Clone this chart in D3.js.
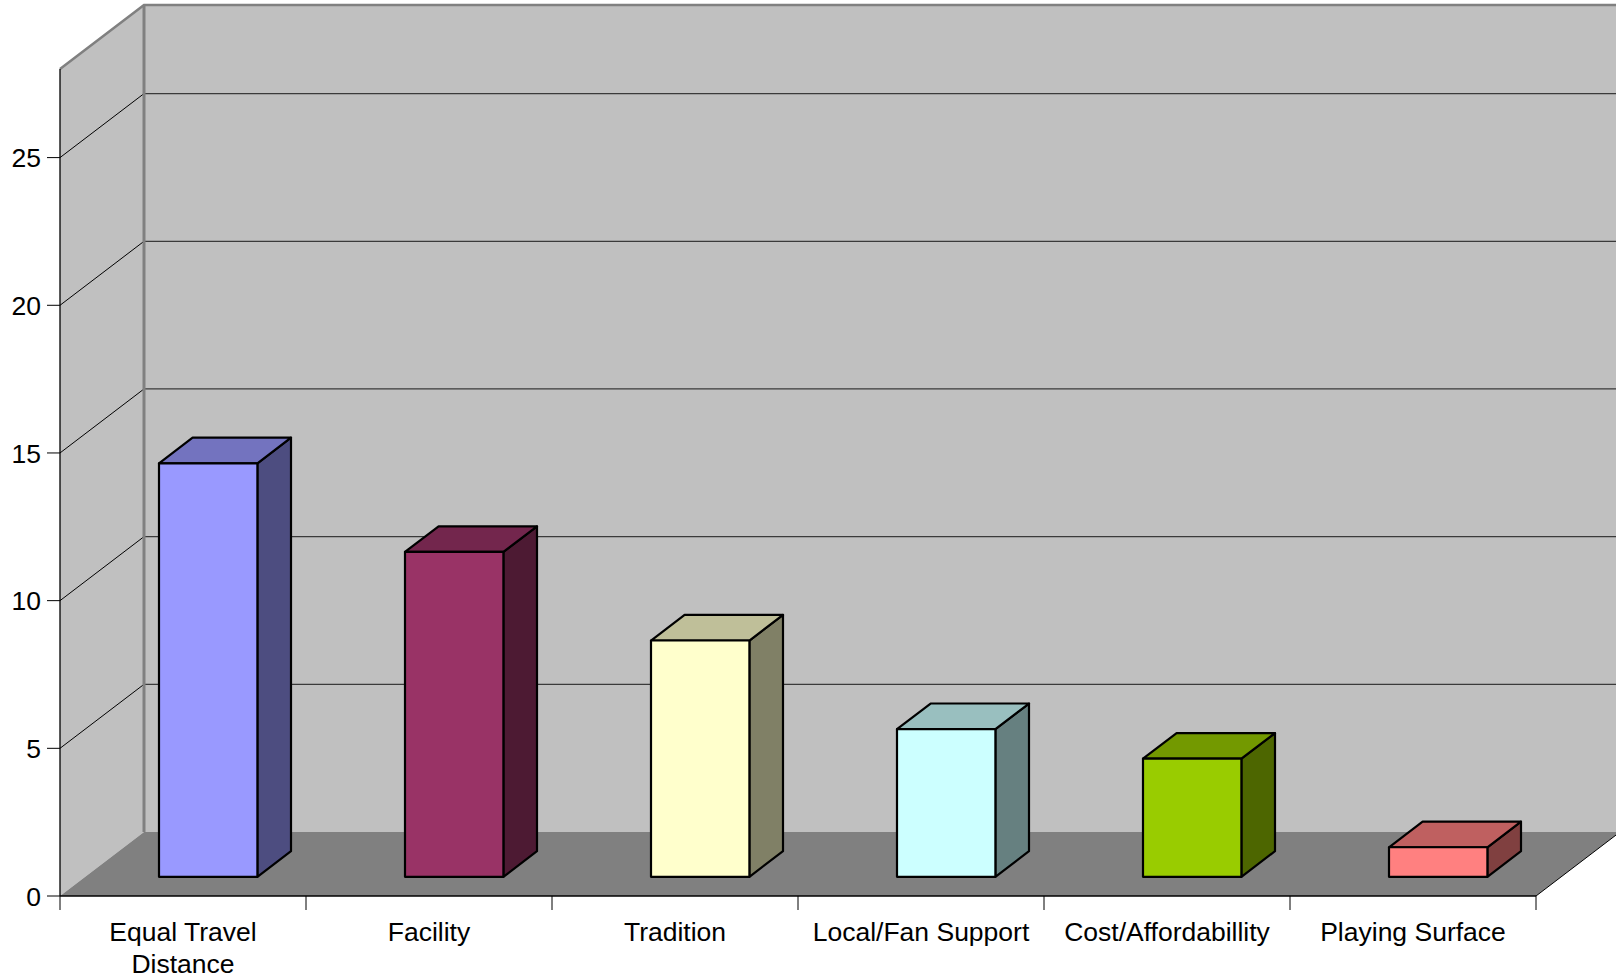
<!DOCTYPE html>
<html>
<head>
<meta charset="utf-8">
<script src="https://cdn.jsdelivr.net/npm/d3@7/dist/d3.min.js"></script>
<style>
  body { margin: 0; background: #fff; }
  text { font-family: "Liberation Sans", Arial, sans-serif; fill: #000; }
</style>
</head>
<body>
<svg id="chart" width="1616" height="980"></svg>
<script>
// data
var categories = ['Equal Travel|Distance', 'Facility', 'Tradition', 'Local/Fan Support', 'Cost/Affordabillity', 'Playing Surface'];
var values = [14, 11, 8, 5, 4, 1];
var barColors = ['#9999ff', '#993366', '#ffffcc', '#ccffff', '#99cc00', '#ff8080'];
var yTicks = [0, 5, 10, 15, 20, 25];
var yMax = 28;

var svg = d3.select('#chart');

// 3d depth offset of the walls
var dx = 84, dy = -64;
var x = d3.scaleBand().domain(d3.range(categories.length)).range([60, 1536]).padding(0);
var y = d3.scaleLinear().domain([0, yMax]).range([896, 69]);

var x0 = x.range()[0], x1 = x.range()[1];
var yb = y(0), yt = y(yMax);
var rightEdge = 1640;
var fontSize = 26.5;

function pt(px, py, z) { return [px + z * dx, py + z * dy]; }
function poly(points) { return points.map(function(p){ return p.join(','); }).join(' '); }
function shade(c, k) {
  var r = d3.rgb(c);
  return d3.rgb(r.r * k, r.g * k, r.b * k).toString();
}

// walls
svg.append('polygon')
  .attr('points', poly([[x0, yb], pt(x0, yb, 1), pt(x0, yt, 1), [x0, yt]]))
  .attr('fill', '#c0c0c0');
svg.append('polygon')
  .attr('points', poly([pt(x0, yb, 1), [rightEdge, yb + dy], [rightEdge, yt + dy], pt(x0, yt, 1)]))
  .attr('fill', '#c0c0c0');
// floor
svg.append('polygon')
  .attr('points', poly([[x0, yb], [x1, yb], pt(x1, yb, 1), pt(x0, yb, 1)]))
  .attr('fill', '#808080');

// grid lines
yTicks.filter(function(d){ return d > 0; }).forEach(function(d) {
  var a = [x0, y(d)], b = pt(x0, y(d), 1);
  svg.append('line')
    .attr('x1', a[0]).attr('y1', a[1]).attr('x2', b[0]).attr('y2', b[1])
    .attr('stroke', '#000').attr('stroke-width', 1);
  svg.append('line')
    .attr('x1', b[0]).attr('y1', b[1]).attr('x2', rightEdge).attr('y2', b[1])
    .attr('stroke', '#3a3a3a').attr('stroke-width', 1.3);
});

// wall edges
var backTop = pt(x0, yt, 1), backBot = pt(x0, yb, 1);
svg.append('polyline')
  .attr('points', poly([[x0, yt], backTop, [rightEdge, backTop[1]]]))
  .attr('fill', 'none').attr('stroke', '#808080').attr('stroke-width', 2.5);
svg.append('line')
  .attr('x1', backTop[0]).attr('y1', backTop[1]).attr('x2', backBot[0]).attr('y2', backBot[1])
  .attr('stroke', '#808080').attr('stroke-width', 3);
// floor right edge
var fr = pt(x1, yb, 1);
svg.append('line')
  .attr('x1', x1).attr('y1', yb).attr('x2', fr[0]).attr('y2', fr[1])
  .attr('stroke', '#000').attr('stroke-width', 1);

// bars
var zf = 0.3, zb = 0.7, bw = 0.4;
values.forEach(function(v, i) {
  var l = x(i) + x.bandwidth() * (1 - bw) / 2;
  var r = l + x.bandwidth() * bw;
  var top = y(v);
  var c = barColors[i];
  var g = svg.append('g')
    .attr('stroke', '#000').attr('stroke-width', 2.2).attr('stroke-linejoin', 'round');
  // side
  g.append('polygon')
    .attr('points', poly([pt(r, yb, zf), pt(r, yb, zb), pt(r, top, zb), pt(r, top, zf)]))
    .attr('fill', shade(c, 0.5));
  // top
  g.append('polygon')
    .attr('points', poly([pt(l, top, zf), pt(r, top, zf), pt(r, top, zb), pt(l, top, zb)]))
    .attr('fill', shade(c, 0.75));
  // front
  var f0 = pt(l, top, zf), f1 = pt(r, yb, zf);
  g.append('rect')
    .attr('x', f0[0]).attr('y', f0[1])
    .attr('width', f1[0] - f0[0]).attr('height', f1[1] - f0[1])
    .attr('fill', c);
});

// y axis
svg.append('line')
  .attr('x1', x0).attr('y1', yb).attr('x2', x0).attr('y2', yt)
  .attr('stroke', '#000').attr('stroke-width', 1.3);
var yAxis = svg.append('g');
yTicks.forEach(function(d) {
  yAxis.append('line')
    .attr('x1', x0 - 13).attr('x2', x0).attr('y1', y(d)).attr('y2', y(d))
    .attr('stroke', '#000').attr('stroke-width', 1);
  yAxis.append('text')
    .attr('x', x0 - 19).attr('y', y(d)).attr('dy', '0.36em')
    .attr('text-anchor', 'end').attr('font-size', fontSize)
    .text(d);
});

// x axis
svg.append('line')
  .attr('x1', x0).attr('y1', yb).attr('x2', x1).attr('y2', yb)
  .attr('stroke', '#000').attr('stroke-width', 1.3);
d3.range(categories.length + 1).forEach(function(i) {
  var px = x0 + i * x.bandwidth();
  svg.append('line')
    .attr('x1', px).attr('x2', px).attr('y1', yb).attr('y2', yb + 14)
    .attr('stroke', '#000').attr('stroke-width', 1);
});
categories.forEach(function(name, i) {
  var t = svg.append('text')
    .attr('x', x(i) + x.bandwidth() / 2).attr('y', 941)
    .attr('text-anchor', 'middle').attr('font-size', fontSize);
  name.split('|').forEach(function(line, k) {
    t.append('tspan')
      .attr('x', x(i) + x.bandwidth() / 2)
      .attr('dy', k == 0 ? 0 : 32)
      .text(line);
  });
});
</script>
</body>
</html>
